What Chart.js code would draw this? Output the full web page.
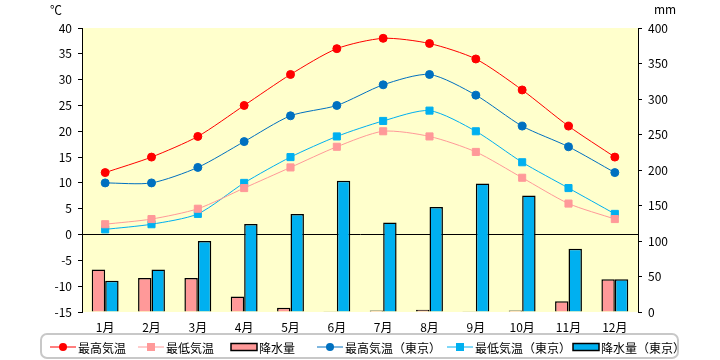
<!DOCTYPE html>
<html>
<head>
<meta charset="utf-8">
<script src="https://cdn.jsdelivr.net/npm/chart.js@4"></script>
<style>
  html, body { margin: 0; padding: 0; background: #fff; }
  #wrap { width: 720px; height: 360px; }
</style>
</head>
<body>
<div id="wrap"><canvas id="chart" width="720" height="360"></canvas></div>
<script>
// 月
const months = ['1月', '2月', '3月', '4月', '5月', '6月', '7月', '8月', '9月', '10月', '11月', '12月'];

// 気温 (℃)
const maxTemp = [12, 15, 19, 25, 31, 36, 38, 37, 34, 28, 21, 15];
const minTemp = [2, 3, 5, 9, 13, 17, 20, 19, 16, 11, 6, 3];
const maxTempTokyo = [10, 10, 13, 18, 23, 25, 29, 31, 27, 21, 17, 12];
const minTempTokyo = [1, 2, 4, 10, 15, 19, 22, 24, 20, 14, 9, 4];

// 降水量 (mm)
const rain = [60, 48, 48, 22, 6, 1, 2, 3, 1, 2, 15, 46];
const rainTokyo = [44, 60, 100, 124, 138, 185, 126, 148, 181, 164, 89, 46];

// 軸の目盛り
const tempTicks = { min: -15, max: 40, step: 5 };
const rainTicks = { min: 0, max: 400, step: 50 };

const FONT = '"Noto Sans CJK JP", "DejaVu Sans", sans-serif';

// グラフ領域の背景
const plotBackground = {
    id: 'plotBackground',
    beforeDraw(chart) {
        const { ctx, chartArea: a } = chart;
        ctx.save();
        ctx.fillStyle = '#FFFFCC';
        ctx.fillRect(a.left, a.top, a.right - a.left, a.bottom - a.top);
        ctx.restore();
    }
};

// 単位と凡例
const extras = {
    id: 'extras',
    afterDraw(chart) {
        const ctx = chart.ctx;
        ctx.save();
        ctx.fillStyle = '#000';
        ctx.font = '12px ' + FONT;
        ctx.textBaseline = 'middle';
        ctx.textAlign = 'left';
        ctx.fillText('℃', 50, 10);
        ctx.fillText('mm', 654, 9);

        // 凡例の枠
        ctx.strokeStyle = '#C8C8C8';
        ctx.lineWidth = 2;
        ctx.beginPath();
        ctx.roundRect(41, 334, 637, 24, 6);
        ctx.stroke();

        const xs = [50, 138, 231, 317, 447, 573];
        const y = 347;
        chart.data.datasets.forEach((ds, i) => {
            const x = xs[ds.legendIndex];
            if (ds.type === 'bar') {
                ctx.fillStyle = ds.backgroundColor;
                ctx.fillRect(x, y - 3.5, 26, 7);
                ctx.strokeStyle = '#000';
                ctx.lineWidth = 1.5;
                ctx.strokeRect(x, y - 3.5, 26, 7);
            } else {
                ctx.strokeStyle = ds.borderColor;
                ctx.lineWidth = 1;
                ctx.beginPath();
                ctx.moveTo(x, y);
                ctx.lineTo(x + 26, y);
                ctx.stroke();
                ctx.fillStyle = ds.pointBackgroundColor;
                ctx.beginPath();
                if (ds.pointStyle === 'rect') {
                    ctx.rect(x + 13 - 4, y - 4, 8, 8);
                } else {
                    ctx.arc(x + 13, y, 4, 0, Math.PI * 2);
                }
                ctx.fill();
            }
            ctx.fillStyle = '#000';
            ctx.font = '12px ' + FONT;
            ctx.fillText(ds.label, x + 28, y + 1);
        });
        ctx.restore();
    }
};

function lineSet(label, data, color, style, legendIndex) {
    return {
        type: 'line',
        label: label,
        data: data,
        yAxisID: 'y',
        borderColor: color,
        backgroundColor: color,
        pointBackgroundColor: color,
        pointBorderColor: color,
        pointStyle: style,
        pointRadius: style === 'rect' ? 5 : 4,
        borderWidth: 1,
        tension: 0.25,
        order: 1,
        legendIndex: legendIndex
    };
}

function barSet(label, data, color, legendIndex) {
    return {
        type: 'bar',
        label: label,
        data: data,
        yAxisID: 'y1',
        backgroundColor: color,
        borderColor: '#000',
        borderWidth: 1.5,
        borderSkipped: 'bottom',
        categoryPercentage: 0.58,
        barPercentage: 1,
        order: 2,
        legendIndex: legendIndex
    };
}

new Chart(document.getElementById('chart'), {
    data: {
        labels: months,
        datasets: [
            lineSet('最高気温', maxTemp, '#FF0000', 'circle', 0),
            lineSet('最低気温', minTemp, '#FF9999', 'rect', 1),
            lineSet('最高気温（東京）', maxTempTokyo, '#0070C0', 'circle', 3),
            lineSet('最低気温（東京）', minTempTokyo, '#00B0F0', 'rect', 4),
            barSet('降水量', rain, '#FF9999', 2),
            barSet('降水量（東京）', rainTokyo, '#00B0F0', 5)
        ]
    },
    options: {
        responsive: false,
        animation: false,
        layout: { padding: { top: 28, left: 0, right: 0, bottom: 0 } },
        plugins: {
            legend: { display: false },
            tooltip: { enabled: false }
        },
        scales: {
            x: {
                grid: { display: false },
                border: { display: false },
                ticks: { color: '#000', font: { family: FONT, size: 12 }, padding: 0 },
                afterFit: s => { s.height = 48; }
            },
            y: {
                position: 'left',
                min: tempTicks.min,
                max: tempTicks.max,
                ticks: { stepSize: tempTicks.step, color: '#000', font: { family: FONT, size: 12 }, padding: 6 },
                grid: {
                    color: c => c.tick && c.tick.value === 0 ? '#000' : 'rgba(0,0,0,0)',
                    tickColor: '#000',
                    tickLength: 4,
                    lineWidth: 1
                },
                border: { display: true, color: '#000', width: 1 },
                afterFit: s => { s.width = 82; }
            },
            y1: {
                position: 'right',
                min: rainTicks.min,
                max: rainTicks.max,
                ticks: { stepSize: rainTicks.step, color: '#000', font: { family: FONT, size: 12 }, padding: 6 },
                grid: { drawOnChartArea: false, tickColor: '#000', tickLength: 4 },
                border: { display: true, color: '#000', width: 1 },
                afterFit: s => { s.width = 82; }
            }
        }
    },
    plugins: [plotBackground, extras]
});
</script>
</body>
</html>
